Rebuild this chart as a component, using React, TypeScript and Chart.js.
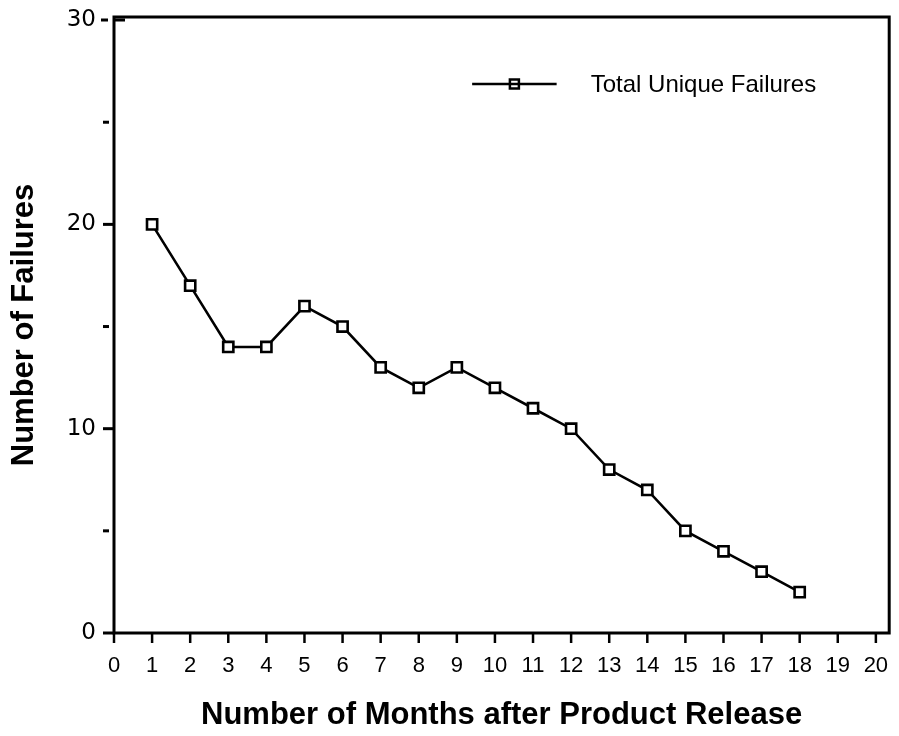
import React, { useEffect, useRef } from 'react';
import { Chart, registerables } from 'chart.js';

Chart.register(...registerables);

const months = [1, 2, 3, 4, 5, 6, 7, 8, 9, 10, 11, 12, 13, 14, 15, 16, 17, 18];
const failures = [20, 17, 14, 14, 16, 15, 13, 12, 13, 12, 11, 10, 8, 7, 5, 4, 3, 2];
const xTickValues = [0, 1, 2, 3, 4, 5, 6, 7, 8, 9, 10, 11, 12, 13, 14, 15, 16, 17, 18, 19, 20];
const yMajorTicks = [0, 10, 20, 30];
const yMinorTicks = [5, 15, 25];
const seriesLabel = 'Total Unique Failures';
const xTitle = 'Number of Months after Product Release';
const yTitle = 'Number of Failures';

const SANS = '"Liberation Sans", Arial, Helvetica, sans-serif';

const frameAndTicks = {
  id: 'frameAndTicks',
  beforeDatasetsDraw(chart: any) {
    const { ctx, chartArea, scales } = chart;
    const { left, right, top, bottom } = chartArea;
    ctx.save();
    ctx.strokeStyle = '#000';
    ctx.lineWidth = 3;
    ctx.strokeRect(left, top, right - left, bottom - top);
    ctx.lineWidth = 2.5;
    ctx.lineCap = 'butt';
    for (const v of xTickValues) {
      const px = scales.x.getPixelForValue(v);
      ctx.beginPath();
      ctx.moveTo(px, bottom);
      ctx.lineTo(px, bottom + 10);
      ctx.stroke();
    }
    ctx.lineWidth = 3;
    for (const v of yMajorTicks) {
      const py = scales.y.getPixelForValue(v);
      ctx.beginPath();
      if (v === 30) {
        ctx.moveTo(left - 13, py);
        ctx.lineTo(left - 6, py);
        ctx.moveTo(left, py);
        ctx.lineTo(left + 11, py);
      } else {
        ctx.moveTo(left - 11, py);
        ctx.lineTo(left, py);
      }
      ctx.stroke();
    }
    for (const v of yMinorTicks) {
      const py = scales.y.getPixelForValue(v);
      ctx.beginPath();
      ctx.moveTo(left - 11, py);
      ctx.lineTo(left - 5, py);
      ctx.stroke();
    }
    ctx.restore();
  },
  afterDraw(chart: any) {
    const { ctx, chartArea } = chart;
    const { left, top, right } = chartArea;
    const w = right - left;
    const x1 = left + 0.462 * w;
    const x2 = left + 0.571 * w;
    const ly = top + 67;
    ctx.save();
    ctx.strokeStyle = '#000';
    ctx.lineWidth = 2.5;
    ctx.beginPath();
    ctx.moveTo(x1, ly);
    ctx.lineTo(x2, ly);
    ctx.stroke();
    const mx = (x1 + x2) / 2;
    ctx.fillStyle = '#fff';
    ctx.fillRect(mx - 4.5, ly - 4.5, 9, 9);
    ctx.strokeRect(mx - 4.5, ly - 4.5, 9, 9);
    ctx.beginPath();
    ctx.moveTo(mx - 4.5, ly);
    ctx.lineTo(mx + 4.5, ly);
    ctx.stroke();
    ctx.fillStyle = '#000';
    ctx.font = `24px ${SANS}`;
    ctx.textBaseline = 'alphabetic';
    ctx.textAlign = 'left';
    ctx.fillText(chart.data.datasets[0].label, left + 0.615 * w, top + 75);
    ctx.restore();
  },
};

export default function App() {
  const ref = useRef<HTMLCanvasElement>(null);

  useEffect(() => {
    document.body.style.margin = '0';
    const canvas = ref.current;
    if (!canvas) return;
    const chart = new Chart(canvas, {
      type: 'line',
      data: {
        datasets: [
          {
            label: seriesLabel,
            data: months.map((m, i) => ({ x: m, y: failures[i] })),
            borderColor: '#000',
            borderWidth: 2.6,
            pointStyle: 'rect',
            pointRadius: 7.2,
            pointBorderWidth: 2.6,
            pointBackgroundColor: '#fff',
            pointBorderColor: '#000',
            tension: 0,
            fill: false,
          },
        ],
      },
      options: {
        animation: false,
        responsive: false,
        maintainAspectRatio: false,
        layout: { padding: { top: 17, right: 6, left: 0, bottom: 0 } },
        plugins: {
          legend: { display: false },
          tooltip: { enabled: false },
        },
        scales: {
          x: {
            type: 'linear',
            min: 0,
            max: 20.35,
            afterBuildTicks: (scale: any) => {
              scale.ticks = xTickValues.map((v) => ({ value: v }));
            },
            afterFit: (scale: any) => {
              scale.height = 103;
              scale.paddingLeft = 0;
              scale.paddingRight = 0;
              scale.paddingTop = 0;
              scale.paddingBottom = 0;
            },
            grid: { display: false, drawTicks: false },
            border: { display: false },
            ticks: {
              autoSkip: false,
              maxRotation: 0,
              padding: 20,
              color: '#000',
              font: { family: SANS, size: 22 },
              callback: (v: any) => String(v),
            },
            title: {
              display: true,
              text: xTitle,
              color: '#000',
              font: { family: SANS, size: 31, weight: 'bold' },
              padding: { top: 0, bottom: 1.5 },
            },
          },
          y: {
            type: 'linear',
            min: 0,
            max: 30.15,
            afterBuildTicks: (scale: any) => {
              scale.ticks = yMajorTicks.map((v) => ({ value: v }));
            },
            afterFit: (scale: any) => {
              scale.width = 114;
              scale.paddingLeft = 0;
              scale.paddingRight = 0;
              scale.paddingTop = 0;
              scale.paddingBottom = 0;
            },
            grid: { display: false, drawTicks: false },
            border: { display: false },
            ticks: {
              padding: 18,
              color: '#000',
              font: { family: '"DejaVu Sans", Verdana, sans-serif', size: 23 },
              callback: (v: any) => String(v),
            },
            title: {
              display: true,
              text: yTitle,
              color: '#000',
              font: { family: SANS, size: 31, weight: 'bold' },
              padding: { top: 5.5, bottom: 0 },
            },
          },
        },
      },
      plugins: [frameAndTicks],
    });
    return () => chart.destroy();
  }, []);

  return (
    <div style={{ width: 899, height: 736 }}>
      <canvas ref={ref} width={899} height={736} style={{ display: 'block', width: 899, height: 736 }} />
    </div>
  );
}
